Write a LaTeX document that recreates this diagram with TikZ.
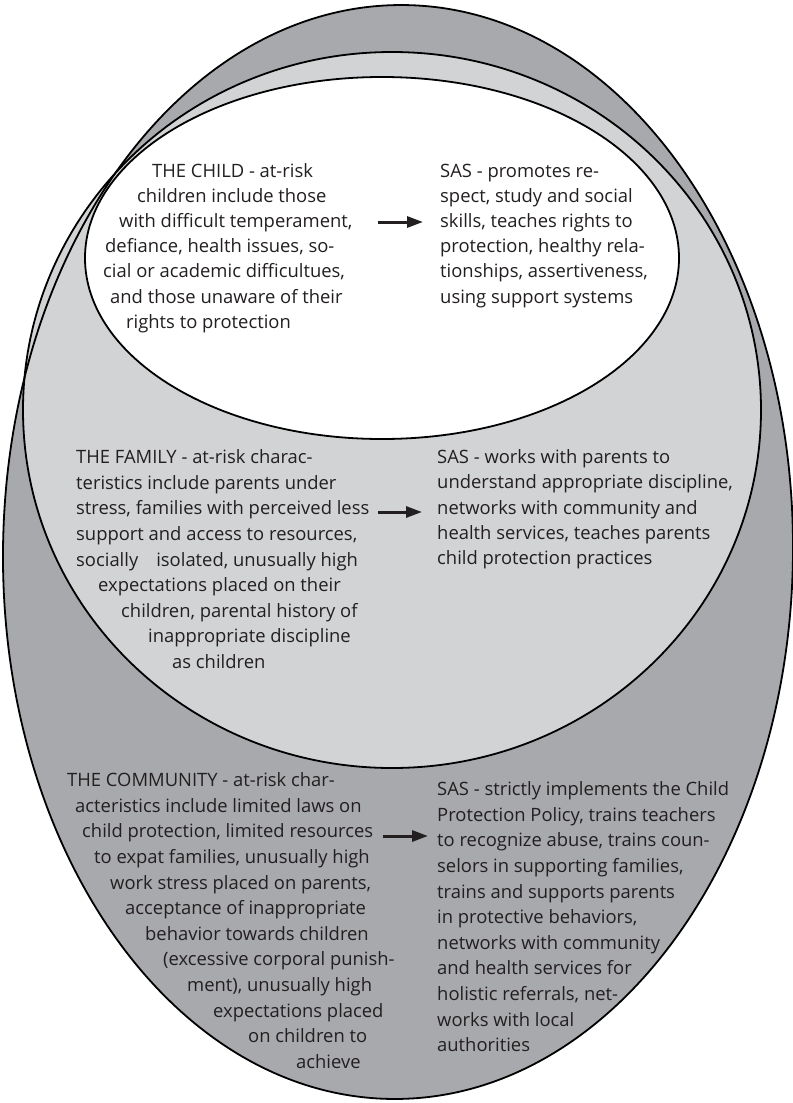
\documentclass[tikz,border=0pt]{standalone}
\usepackage{fontspec}
\setmainfont{Open Sans}
\usetikzlibrary{arrows.meta}
\definecolor{outergray}{HTML}{A7A9AC}
\definecolor{midgray}{HTML}{D1D3D4}
\definecolor{ink}{HTML}{231F20}
\begin{document}
\begin{tikzpicture}[x=1bp,y=-1bp,
  txt/.style={font=\fontsize{18.4bp}{25.5bp}\selectfont, text=ink, inner sep=0pt, anchor=mid west},
  arr/.style={-{Triangle[length=16bp,width=11bp]}, line width=3bp, draw=ink},
  rim/.style={draw=black, line width=1.8bp}]
\useasboundingbox (0,0) rectangle (793,1103);
\fill[white] (0,0) rectangle (793,1103);
\begin{scope}
\clip (0,0) rectangle (793,1103);
% fills
\fill[outergray, rotate around={-0.7:(398,552)}] (398,552) ellipse [x radius=395, y radius=547];
\fill[midgray] (392,410) ellipse [x radius=369, y radius=358];
\fill[white] (382,258) ellipse [x radius=297, y radius=181];
% outlines
\draw[rim, rotate around={-0.7:(398,552)}] (398,552) ellipse [x radius=395, y radius=547];
\draw[rim] (392,410) ellipse [x radius=369, y radius=358];
\draw[rim] (382,258) ellipse [x radius=297, y radius=181];
\end{scope}

% THE CHILD
\node[txt] (cl1) at (152,175) {THE CHILD - at-risk};
\node[txt] (cl2) at (137,200) {children include those};
\node[txt] (cl3) at (119,224.5) {with difficult temperament,};
\node[txt] (cl4) at (105,249.5) {defiance, health issues, so-};
\node[txt] (cl5) at (103,275) {cial or academic difficultues,};
\node[txt] (cl6) at (110,300.5) {and those unaware of their};
\node[txt] (cl7) at (126,326) {rights to protection};

\node[txt] (cr1) at (440,175) {SAS - promotes re-};
\node[txt] (cr2) at (440,200) {spect, study and social};
\node[txt] (cr3) at (440,224.5) {skills, teaches rights to};
\node[txt] (cr4) at (440,249.5) {protection, healthy rela-};
\node[txt] (cr5) at (440,275) {tionships, assertiveness,};
\node[txt] (cr6) at (440,300.5) {using support systems};

\coordinate (ca1) at (378,222);
\coordinate (ca2) at (423,222);
\draw[arr] (ca1) -- (ca2);

% THE FAMILY
\node[txt] (fl1) at (76,461) {THE FAMILY - at-risk charac-};
\node[txt] (fl2) at (76,486.6) {teristics include parents under};
\node[txt] (fl3) at (76,512.2) {stress, families with perceived less};
\node[txt] (fl4) at (76,537.8) {support and access to resources,};
\node[txt] (fl5) at (76,563.4) {socially\hspace{18bp}isolated, unusually high};
\node[txt] (fl6) at (98,589) {expectations placed on their};
\node[txt] (fl7) at (121,614.6) {children, parental history of};
\node[txt] (fl8) at (148,640.2) {inappropriate discipline};
\node[txt] (fl9) at (172,665.8) {as children};

\node[txt] (fr1) at (437,461) {SAS - works with parents to};
\node[txt] (fr2) at (437,486.3) {understand appropriate discipline,};
\node[txt] (fr3) at (437,511.6) {networks with community and};
\node[txt] (fr4) at (437,536.9) {health services, teaches parents};
\node[txt] (fr5) at (437,562.2) {child protection practices};

\coordinate (fa1) at (378,512);
\coordinate (fa2) at (422,512);
\draw[arr] (fa1) -- (fa2);

% THE COMMUNITY
\node[txt] (ml1) at (67,784) {THE COMMUNITY - at-risk char-};
\node[txt] (ml2) at (75,809.6) {acteristics include limited laws on};
\node[txt] (ml3) at (82,835.2) {child protection, limited resources};
\node[txt] (ml4) at (94,860.8) {to expat families, unusually high};
\node[txt] (ml5) at (110,886.4) {work stress placed on parents,};
\node[txt] (ml6) at (125,912) {acceptance of inappropriate};
\node[txt] (ml7) at (145,937.6) {behavior towards children};
\node[txt] (ml8) at (163,963.2) {(excessive corporal punish-};
\node[txt] (ml9) at (187,988.8) {ment), unusually high};
\node[txt] (ml10) at (213,1014.4) {expectations placed};
\node[txt] (ml11) at (248,1040) {on children to};
\node[txt] (ml12) at (296,1065.6) {achieve};

\node[txt] (mr1) at (437,793) {SAS - strictly implements the Child};
\node[txt] (mr2) at (437,818.6) {Protection Policy, trains teachers};
\node[txt] (mr3) at (437,844.2) {to recognize abuse, trains coun-};
\node[txt] (mr4) at (437,869.8) {selors in supporting families,};
\node[txt] (mr5) at (437,895.4) {trains and supports parents};
\node[txt] (mr6) at (437,921) {in protective behaviors,};
\node[txt] (mr7) at (437,946.6) {networks with community};
\node[txt] (mr8) at (437,972.2) {and health services for};
\node[txt] (mr9) at (437,997.8) {holistic referrals, net-};
\node[txt] (mr10) at (437,1023.4) {works with local};
\node[txt] (mr11) at (437,1049) {authorities};

\coordinate (ma1) at (383,836);
\coordinate (ma2) at (428,836);
\draw[arr] (ma1) -- (ma2);
\end{tikzpicture}
\end{document}
